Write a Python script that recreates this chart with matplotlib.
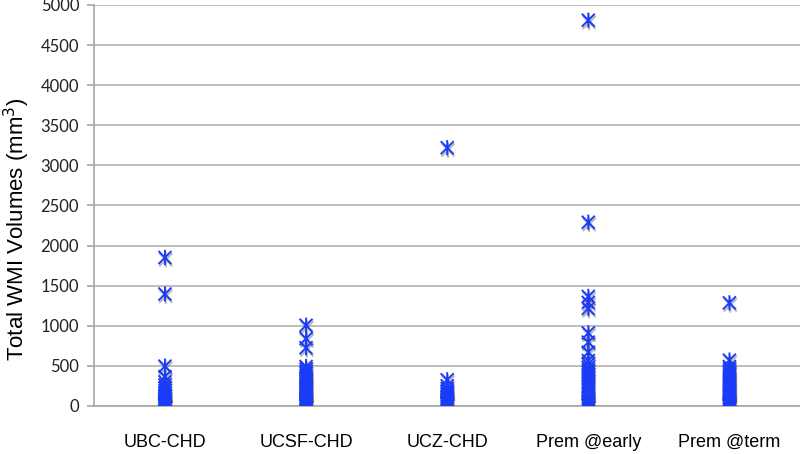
import matplotlib
matplotlib.use('Agg')
import matplotlib.pyplot as plt
import matplotlib.patheffects as pe
from matplotlib.path import Path

# categories and per-group WMI volumes (mm^3)
groups = ["UBC-CHD", "UCSF-CHD", "UCZ-CHD", "Prem @early", "Prem @term"]

ubc_chd = [1850, 1395, 495, 365, 300, 260, 225, 190, 160, 135, 115, 95, 80,
           65, 52, 40, 30, 22, 15, 10, 6, 3, 1, 0]
ucsf_chd = [1005, 840, 725, 490, 460, 430, 405, 380, 355, 330, 305, 280, 260,
            240, 220, 200, 180, 160, 140, 120, 100, 85, 70, 55, 42, 30, 20,
            12, 6, 2, 0]
ucz_chd = [3220, 325, 250, 215, 185, 160, 140, 120, 100, 85, 70, 55, 45, 35,
           25, 20]
prem_early = [4810, 2290, 1365, 1290, 1215, 910, 795, 670, 565, 520, 480, 450,
              420, 390, 360, 330, 300, 270, 240, 200, 150, 110, 85, 65, 45,
              30, 18, 8, 2, 0]
prem_term = [1285, 570, 490, 460, 430, 400, 375, 350, 325, 300, 275, 250, 225,
             200, 180, 160, 140, 120, 100, 80, 65, 50, 38, 26, 16, 8, 3, 0]

series = [ubc_chd, ucsf_chd, ucz_chd, prem_early, prem_term]

yticks = list(range(0, 5001, 500))

# Excel-style asterisk: an X with a vertical bar through it
d = 0.85
star = Path([(0, -1), (0, 1), (-d, -d), (d, d), (-d, d), (d, -d)],
            [Path.MOVETO, Path.LINETO, Path.MOVETO, Path.LINETO,
             Path.MOVETO, Path.LINETO])

fig = plt.figure(figsize=(8, 4.54), dpi=100)
ax = fig.add_axes([0.118, 0.106, 0.882, 0.883])

shadow = [pe.SimpleLineShadow(offset=(0.6, -1.6), shadow_color='#333333', alpha=0.35),
          pe.Normal()]

for i, vals in enumerate(series):
    ax.plot([i] * len(vals), vals, ls='none', marker=star, ms=11,
            mew=1.4, mec='#1a3cf8', color='#1a3cf8', zorder=3,
            path_effects=shadow)

ax.set_xlim(-0.5, len(groups) - 0.5)
ax.set_ylim(0, 5000)
ax.set_yticks(yticks)
ax.set_xticks(range(len(groups)))
ax.set_xticklabels(groups, fontsize=13, family='Liberation Sans')
for lab in ax.get_yticklabels():
    lab.set_family('Lato')
    lab.set_fontsize(12)
    lab.set_color('#222222')

ax.grid(axis='y', color='#b3b3b3', lw=1.2, zorder=0)
ax.set_axisbelow(True)
for s in ['top', 'right']:
    ax.spines[s].set_visible(False)
for s in ['left', 'bottom']:
    ax.spines[s].set_color('#a6a6a6')
    ax.spines[s].set_linewidth(1.2)

ax.tick_params(axis='y', length=5, color='#a6a6a6', width=1.2, pad=6)
ax.tick_params(axis='x', length=0, pad=20)

ax.set_ylabel("Total WMI Volumes (mm$^3$)", fontsize=16, family='Liberation Sans')
ax.yaxis.set_label_coords(-0.088, 0.44)

fig.savefig('out.png', dpi=100)
